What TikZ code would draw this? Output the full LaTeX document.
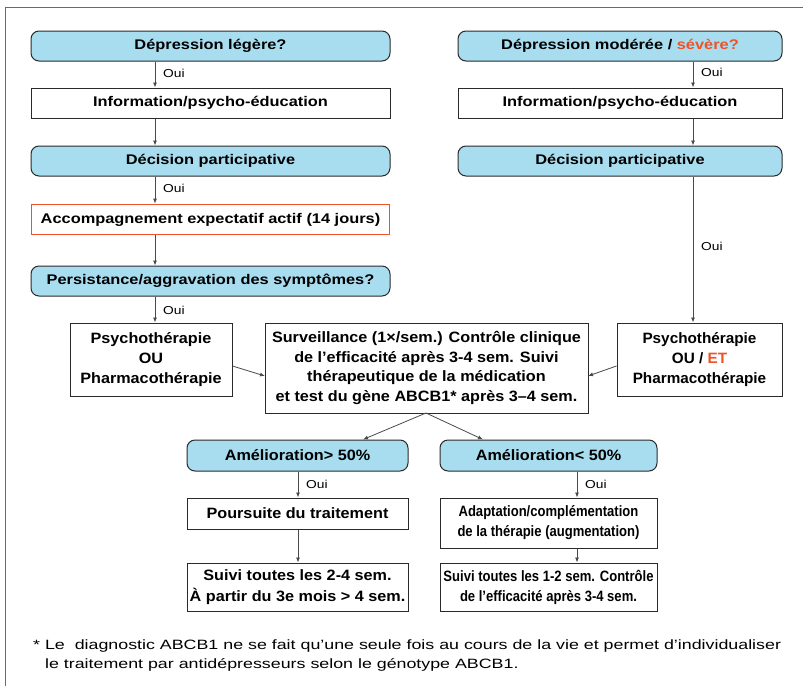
\documentclass[tikz,border=0pt]{standalone}
\usepackage{fontspec}
\setmainfont{Liberation Sans}
\newfontfamily\fA[FakeStretch=1.17]{Liberation Sans Bold}
\newfontfamily\fB[FakeStretch=1.08]{Liberation Sans Bold}
\newfontfamily\fD[FakeStretch=1.02]{Liberation Sans Bold}
\newfontfamily\fC[FakeStretch=0.87]{Liberation Sans Bold}
\newfontfamily\fOui[FakeStretch=1.2]{Liberation Sans}
\newfontfamily\fNote[FakeStretch=1.32]{Liberation Sans}
\usetikzlibrary{arrows.meta}
\definecolor{boxblue}{HTML}{A8DDF0}
\definecolor{accorange}{HTML}{EE5328}
\definecolor{edge}{HTML}{2A2A2A}
\tikzset{
  base/.style={draw=edge, line width=1pt, inner sep=2pt, align=center, text=black},
  topf/.style={font=\fontsize{14}{18}\fA},
  midf/.style={font=\fontsize{15}{19.7}\fB},
  midr/.style={font=\fontsize{15}{19.7}\fD},
  lowl/.style={font=\fontsize{15}{20.5}\fB},
  lowr/.style={font=\fontsize{15}{20}\fC},
  question/.style={base, fill=boxblue, rounded corners=8pt},
  plain/.style={base, fill=white},
  accbox/.style={base, draw=accorange, line width=1.8pt},
  conn/.style={draw=edge!85, line width=0.8pt, -{Latex[length=5pt,width=4pt]}},
  oui/.style={font=\fontsize{11.5}{13}\fOui, anchor=west, inner sep=0pt},
}
\begin{document}
\begin{tikzpicture}[x=1pt,y=-1pt]
\useasboundingbox (0,0) rectangle (803,686);
\fill[white] (0,0) rectangle (803,686);
% frame
\draw[edge!70, line width=0.8pt] (803,7) -- (5,7) -- (5,686);

% left column
\node[question, topf, minimum width=359pt, minimum height=30pt] (d1) at (210.5,46) {Dépression légère?};
\node[plain, topf, minimum width=359pt, minimum height=30pt] (i1) at (210.5,103) {Information/psycho-éducation};
\node[question, topf, minimum width=359pt, minimum height=30pt] (dp1) at (210.5,161) {Décision participative};
\node[accbox, topf, minimum width=358pt, minimum height=30pt] (acc) at (210.5,219.5) {Accompagnement expectatif actif (14 jours)};
\node[question, topf, minimum width=359pt, minimum height=30pt] (pers) at (210.5,281) {Persistance/aggravation des symptômes?};

% right column
\node[question, topf, minimum width=324pt, minimum height=30pt] (d2) at (620,46) {Dépression modérée / \textcolor{accorange}{sévère?}};
\node[plain, topf, minimum width=324pt, minimum height=30pt] (i2) at (620,103) {Information/psycho-éducation};
\node[question, topf, minimum width=324pt, minimum height=30pt] (dp2) at (620,161) {Décision participative};

% middle row
\node[plain, midf, minimum width=162pt, minimum height=73pt] (p1) at (151,359.5) {Psychothérapie\\OU\\Pharmacothérapie};
\node[plain, midf, minimum width=323pt, minimum height=90pt] (sv) at (426.5,368) {Surveillance (1×/sem.) Contrôle clinique\\de l’efficacité après 3-4 sem. Suivi\\thérapeutique de la médication\\et test du gène ABCB1* après 3–4 sem.};
\node[plain, midr, minimum width=165pt, minimum height=73pt] (p2) at (699.5,359.5) {Psychothérapie\\OU / \textcolor{accorange}{ET}\\Pharmacothérapie};

% lower rows
\node[question, lowl, minimum width=221pt, minimum height=31pt] (a1) at (297.5,455.5) {Amélioration> 50\%};
\node[question, lowl, minimum width=217pt, minimum height=31pt] (a2) at (548.5,455.5) {Amélioration< 50\%};
\node[plain, lowl, minimum width=221pt, minimum height=31pt] (po) at (297.5,513.5) {Poursuite du traitement};
\node[plain, lowr, minimum width=217pt, minimum height=50pt] (ad) at (548.5,523) {Adaptation/complémentation\\de la thérapie (augmentation)};
\node[plain, lowl, minimum width=221pt, minimum height=48pt] (s1) at (297.5,587) {Suivi toutes les 2-4 sem.\\À partir du 3e mois > 4 sem.};
\node[plain, lowr, minimum width=217pt, minimum height=48pt] (s2) at (548.5,587) {Suivi toutes les 1-2 sem. Contrôle\\de l’efficacité après 3-4 sem.};

% arrow columns
\coordinate (lx) at (155,0);
\coordinate (rx) at (693,0);
\coordinate (ax1) at (298,0);
\coordinate (ax2) at (577,0);

\draw[conn] (d1.south -| lx) -- (i1.north -| lx);
\draw[conn] (i1.south -| lx) -- (dp1.north -| lx);
\draw[conn] (dp1.south -| lx) -- (acc.north -| lx);
\draw[conn] (acc.south -| lx) -- (pers.north -| lx);
\draw[conn] (pers.south -| lx) -- (p1.north -| lx);

\draw[conn] (d2.south -| rx) -- (i2.north -| rx);
\draw[conn] (i2.south -| rx) -- (dp2.north -| rx);
\draw[conn] (dp2.south -| rx) -- (p2.north -| rx);

\coordinate (sw1) at (265,376);
\coordinate (se1) at (588,376);
\draw[conn] (p1.east |- 0,366) -- (sw1);
\draw[conn] (p2.west |- 0,366) -- (se1);

\coordinate (svb) at (426,413);
\draw[conn] (svb) -- (a1.north -| 363,0);
\draw[conn] (svb) -- (a2.north -| 483,0);

\draw[conn] (a1.south -| ax1) -- (po.north -| ax1);
\draw[conn] (po.south -| ax1) -- (s1.north -| ax1);
\draw[conn] (a2.south -| ax2) -- (ad.north -| ax2);
\draw[conn] (ad.south -| ax2) -- (s2.north -| ax2);

% Oui labels
\node[oui] (o1) at (163,73) {Oui};
\node[oui] (o2) at (163,188) {Oui};
\node[oui] (o3) at (163,310) {Oui};
\node[oui] (o4) at (701,72) {Oui};
\node[oui] (o5) at (701,246) {Oui};
\node[oui] (o6) at (306,484) {Oui};
\node[oui] (o7) at (585,484) {Oui};

% footnote
\node[anchor=base west, inner sep=0pt, align=left, font=\fontsize{13.5}{19}\fNote] (fn) at (33,668)
  {* Le\ \ diagnostic ABCB1 ne se fait qu’une seule fois au cours de la vie et permet d’individualiser\\
   \hphantom{* }le traitement par antidépresseurs selon le génotype ABCB1.};
\end{tikzpicture}
\end{document}
